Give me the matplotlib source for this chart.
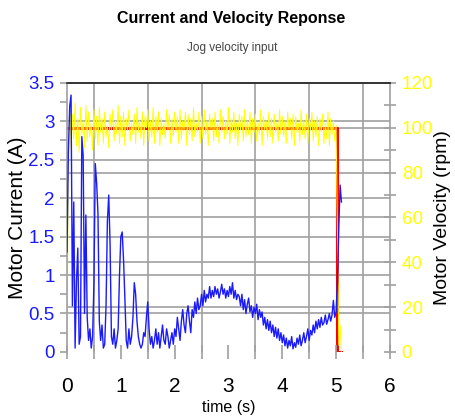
import numpy as np
import matplotlib.pyplot as plt
import matplotlib.transforms as mtransforms
from matplotlib.ticker import MultipleLocator, FixedLocator

plt.rcParams['font.family'] = ['Liberation Sans', 'DejaVu Sans']

dt = 0.025  # sample spacing (s)

# motor current (A), one value every 25 ms from t = 0 to 5.1 s
current_a = [
    1.3, 2.6, 3.2, 3.34, 0.6, 1.95, 0.05, 0.9, 1.35, 0.1, 0.2, 2.8, 2.55, 0.5, 1.78, 0.45, 0.15, 0.3, 0.05, 0.2,
    0.9, 2.45, 2.2, 1.8, 0.4, 0.15, 0.35, 0.05, 0.1, 0.6, 1.7, 2.04, 1.4, 0.2, 0.1, 0.3, 0.05, 0.15, 0.3, 1.0,
    1.5, 1.56, 1.2, 0.7, 0.15, 0.05, 0.3, 0.1, 0.2, 0.45, 0.9, 0.75, 0.4, 0.2, 0.1, 0.05, 0.1, 0.25, 0.2, 0.45,
    0.65, 0.3, 0.1, 0.2, 0.05, 0.15, 0.3, 0.1, 0.25, 0.05, 0.2, 0.35, 0.15, 0.1, 0.3, 0.2, 0.05, 0.15, 0.25, 0.1,
    0.3, 0.2, 0.45, 0.3, 0.15, 0.4, 0.55, 0.35, 0.25, 0.5, 0.6, 0.4, 0.25, 0.55, 0.45, 0.65, 0.5, 0.7, 0.55, 0.6,
    0.75, 0.6, 0.8, 0.65, 0.75, 0.7, 0.85, 0.7, 0.8, 0.72, 0.85, 0.75, 0.82, 0.7, 0.78, 0.88, 0.75, 0.82, 0.7, 0.8,
    0.72, 0.85, 0.75, 0.9, 0.7, 0.8, 0.68, 0.75, 0.72, 0.6, 0.75, 0.55, 0.68, 0.5, 0.62, 0.7, 0.52, 0.6, 0.45, 0.58,
    0.5, 0.62, 0.42, 0.55, 0.45, 0.52, 0.35, 0.45, 0.3, 0.42, 0.28, 0.4, 0.25, 0.35, 0.2, 0.32, 0.18, 0.3, 0.15, 0.25,
    0.12, 0.22, 0.08, 0.18, 0.05, 0.15, 0.08, 0.2, 0.04, 0.12, 0.06, 0.18, 0.1, 0.22, 0.08, 0.15, 0.25, 0.12, 0.2, 0.3,
    0.15, 0.28, 0.22, 0.35, 0.25, 0.4, 0.3, 0.42, 0.32, 0.45, 0.35, 0.38, 0.48, 0.36, 0.42, 0.5, 0.4, 0.48, 0.67, 0.45,
    0.52, 0.9, 1.6, 2.17, 1.95,
]

# measured motor velocity (rpm), same sampling
velocity_rpm = [
    0, 94,
    108, 90, 106, 95, 111, 92, 104, 89, 109, 97, 103, 91, 110, 94, 107, 96, 102, 90, 108,
    95, 105, 92, 109, 98, 104, 93, 107, 96, 101, 91, 106, 99, 108, 94, 103, 97, 110, 93, 105,
    96, 107, 92, 104, 99, 108, 94, 102, 97, 106, 93, 109, 98, 103, 95, 107, 92, 105, 100, 108,
    94, 103, 96, 109, 93, 105, 98, 107, 92, 104, 97, 102, 95, 108, 99, 106, 93, 104, 96, 107,
    98, 105, 93, 108, 95, 103, 99, 107, 92, 106, 97, 104, 94, 109, 96, 102, 98, 107, 93, 105,
    95, 108, 97, 103, 92, 106, 99, 104, 94, 107, 96, 102, 93, 108, 98, 105, 95, 103, 97, 109,
    93, 104, 98, 107, 95, 102, 92, 106, 99, 105, 94, 108, 96, 103, 97, 107, 93, 104, 98, 106,
    94, 102, 97, 108, 92, 105, 99, 103, 95, 107, 96, 104, 93, 106, 98, 102, 94, 108, 97, 105,
    96, 103, 93, 107, 99, 104, 95, 106, 92, 105, 98, 102, 94, 108, 97, 103, 95, 106, 93, 104,
    99, 107, 94, 103, 96, 105, 92, 104, 98, 106, 93, 102, 95, 107, 92, 104, 97, 103, 94, 101,
    55, 3, 12, 0,
]

# jog velocity command (rpm)
ref_time = [0, 5.02, 5.02, 5.1]
ref_rpm = [100, 100, 0, 0]

t_cur = np.arange(len(current_a)) * dt
t_vel = np.arange(len(velocity_rpm)) * dt

cur_ticks = [0, 0.5, 1, 1.5, 2, 2.5, 3, 3.5]
cur_labels = ['0', '0.5', '1', '1.5', '2', '2.5', '3', '3.5']
vel_ticks = [0, 20, 40, 60, 80, 100, 120]
time_ticks = [0, 1, 2, 3, 4, 5, 6]
time_half = [0.5, 1.5, 2.5, 3.5, 4.5, 5.5]

grid_c = '#a0a0a0'
blue = '#1a1aff'
yellow = '#ffff00'

fig = plt.figure(figsize=(4.56, 4.16), dpi=100)
ax1 = fig.add_axes([0.147, 0.154, 0.708, 0.647])
ax2 = ax1.twinx()
ax1.set_zorder(ax2.get_zorder() + 1)
ax1.patch.set_visible(False)

# grid on the lower axes so the traces sit over it
for lvl in cur_ticks[1:-1]:
    tr = mtransforms.blended_transform_factory(ax2.transAxes, ax1.transData)
    ax2.plot([0, 1], [lvl, lvl], transform=tr, color=grid_c, lw=1.2, zorder=0.5)
for lvl in vel_ticks[1:-1]:
    ax2.axhline(lvl, color=grid_c, lw=1.2, zorder=0.5)
for x in time_half:
    ax2.axvline(x, color=grid_c, lw=1.2, zorder=0.5)

ax2.plot(ref_time, ref_rpm, color='red', lw=2.2, zorder=2)
ax2.plot(t_vel, velocity_rpm, color=yellow, lw=0.7, zorder=3)
ax1.plot(t_cur, current_a, color=blue, lw=1.0, zorder=3)

ax1.set_xlim(0, 6)
ax1.set_ylim(0, 3.5)
ax2.set_ylim(0, 120)

ax1.set_xticks(time_ticks)
ax1.set_xticklabels([str(v) for v in time_ticks])
ax1.xaxis.set_minor_locator(FixedLocator(time_half))
ax1.set_yticks(cur_ticks)
ax1.set_yticklabels(cur_labels)
ax1.yaxis.set_minor_locator(MultipleLocator(0.25))
ax2.set_yticks(vel_ticks)
ax2.yaxis.set_minor_locator(MultipleLocator(10))

ax1.tick_params(axis='x', which='both', direction='inout', length=10, width=1.2,
                color=grid_c, labelsize=15, pad=13)
ax1.tick_params(axis='y', which='both', direction='out', length=5, width=1.2,
                color=grid_c, labelcolor=blue, labelsize=13.5, pad=4)
ax2.tick_params(axis='y', which='both', direction='inout', length=9, width=1.2,
                color=grid_c, labelcolor=yellow, labelsize=13.5, pad=4)

for ax in (ax1, ax2):
    ax.spines['bottom'].set_visible(False)
    ax.spines['top'].set_color('#333333')
    ax.spines['top'].set_linewidth(1.2)
ax1.spines['right'].set_visible(False)
ax2.spines['left'].set_visible(False)
ax1.spines['left'].set_color(grid_c)
ax1.spines['left'].set_linewidth(1.2)
ax2.spines['right'].set_color(grid_c)
ax2.spines['right'].set_linewidth(1.2)

ax1.set_xlabel('time (s)', fontsize=11.5, labelpad=3)
ax1.set_ylabel('Motor Current (A)', fontsize=15, labelpad=1)
ax2.set_ylabel('Motor Velocity (rpm)', fontsize=14, labelpad=0.5)

fig.text(0.507, 1 - 19 / 416, 'Current and Velocity Reponse', ha='center', va='center',
         fontsize=11.5, fontweight='bold')
fig.text(0.509, 1 - 48 / 416, 'Jog velocity input', ha='center', va='center',
         fontsize=8.5, color='#444444')

fig.savefig('out.png', dpi=100)
